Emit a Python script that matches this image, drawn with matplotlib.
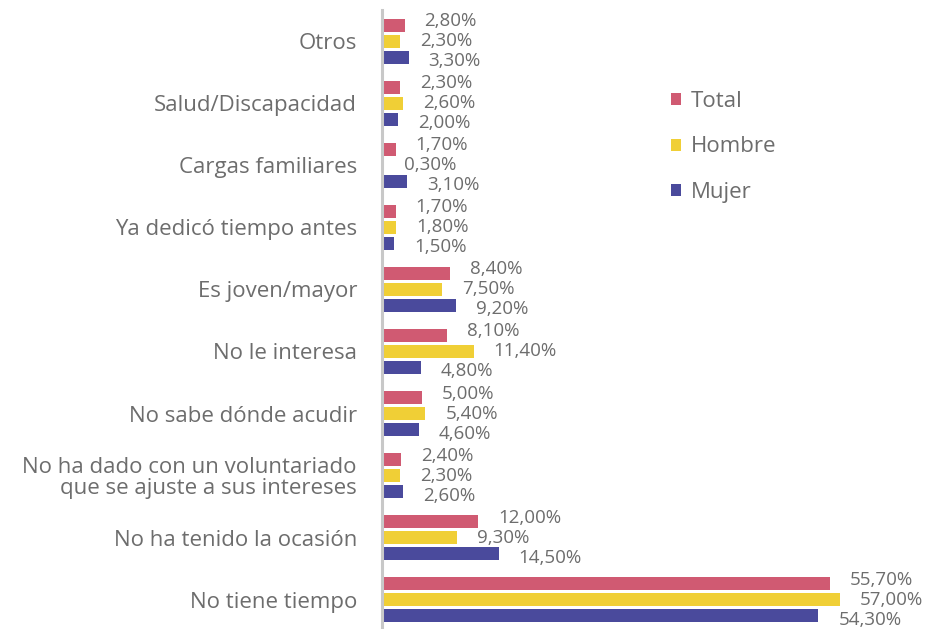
import matplotlib.pyplot as plt
import numpy as np
from matplotlib.patches import Patch

plt.rcParams['font.family'] = ['Open Sans', 'DejaVu Sans']

# categorias de abajo hacia arriba
categorias = ["No tiene tiempo", "No ha tenido la ocasión",
              "No ha dado con un voluntariado\nque se ajuste a sus intereses",
              "No sabe dónde acudir", "No le interesa", "Es joven/mayor",
              "Ya dedicó tiempo antes", "Cargas familiares",
              "Salud/Discapacidad", "Otros"]
total = [55.7, 12.0, 2.4, 5.0, 8.1, 8.4, 1.7, 1.7, 2.3, 2.8]
hombre = [57.0, 9.3, 2.3, 5.4, 11.4, 7.5, 1.8, 0.3, 2.6, 2.3]
mujer = [54.3, 14.5, 2.6, 4.6, 4.8, 9.2, 1.5, 3.1, 2.0, 3.3]

series = ["Total", "Hombre", "Mujer"]
colores = ["#d05a72", "#f0cf36", "#4a4a9c"]
gris = "#6d6d6d"

fig = plt.figure(figsize=(9.42, 6.29), dpi=100)
ax = fig.add_axes([382/942, 0, 0.512, 619/629])

y = np.arange(len(categorias))
off = 0.258
alto = 0.21
datos = [total, hombre, mujer]
desp = [off, 0, -off]
dy_lab = [4, 0, -4]

for vals, col, d, dyl in zip(datos, colores, desp, dy_lab):
    ax.barh(y + d, vals, height=alto, color=col)
    for yi, v in zip(y, vals):
        txt = f"{v:.2f}".replace('.', ',') + '%'
        ax.annotate(txt, (v, yi + d), xytext=(20, dyl), textcoords='offset pixels',
                    ha='left', va='center', fontsize=13.5, color=gris,
                    annotation_clip=False)

ax.set_xlim(0, 60)
ax.set_ylim(-0.47, 9.5)
ax.set_yticks(y)
ax.set_yticklabels(categorias, fontsize=16, color=gris, ha='right',
                   multialignment='right', linespacing=1.0)
ax.tick_params(axis='y', length=0, pad=18)
ax.set_xticks([])
for s in ['top', 'right', 'bottom']:
    ax.spines[s].set_visible(False)
ax.spines['left'].set_color('#c8c8c8')
ax.spines['left'].set_linewidth(2.2)

handles = [Patch(facecolor=c, edgecolor='none') for c in colores]
fig.legend(handles, series, loc='upper left', bbox_to_anchor=(671/942, 1 - 91/629),
           frameon=False, fontsize=16, labelcolor=gris, handlelength=0.45,
           handleheight=0.45, handletextpad=0.45, labelspacing=1.1, borderpad=0,
           borderaxespad=0)

fig.savefig("out.png", dpi=100)
